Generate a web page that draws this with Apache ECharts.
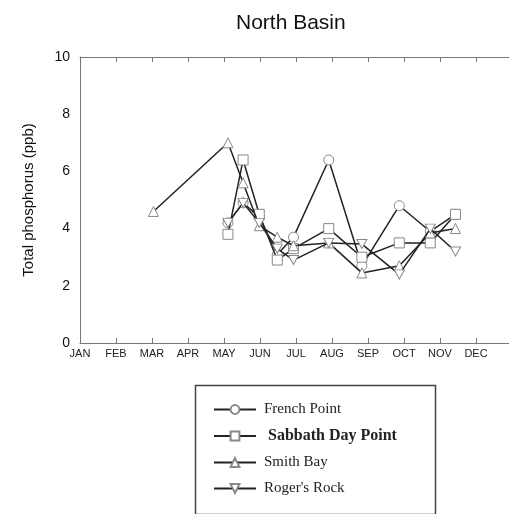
<!DOCTYPE html>
<html>
<head>
<meta charset="utf-8">
<script src="https://cdn.jsdelivr.net/npm/echarts@6/dist/echarts.min.js"></script>
<style>html,body{margin:0;padding:0;background:#fff}#c{width:509px;height:514px}</style>
</head>
<body>
<div id="c"></div>
<script>
var monthLabels = ['JAN','FEB','MAR','APR','MAY','JUN','JUL','AUG','SEP','OCT','NOV','DEC'];
var yTicks = [0, 2, 4, 6, 8, 10];
var seriesNames = ['French Point', 'Sabbath Day Point', 'Smith Bay', "Roger's Rock"];
// sampling dates (fractional month, JAN = 0)
var sampleX = [4.11, 4.53, 4.98, 5.48, 5.93, 6.91, 7.83, 8.87, 9.73, 10.43];
var smithX = [2.04, 4.11, 4.53, 4.98, 5.48, 5.93, 6.91, 7.83, 8.87, 9.73, 10.43];
var frenchPoint = [4.2, 4.9, 4.4, 3.1, 3.7, 6.4, 2.7, 4.8, 3.9, 4.5];
var sabbathDayPoint = [3.8, 6.4, 4.5, 2.9, 3.3, 4.0, 3.0, 3.5, 3.5, 4.5];
var smithBay = [4.6, 7.0, 5.6, 4.1, 3.7, 3.4, 3.5, 2.45, 2.7, 3.85, 4.0];
var rogersRock = [4.2, 4.9, 4.2, 3.3, 2.9, 3.5, 3.46, 2.4, 4.0, 3.2];

function pairs(xs, ys) { return xs.map(function (x, i) { return [x, ys[i]]; }); }

var symbols = ['circle', 'rect', 'triangle', 'path://M0,0 L10,0 L5,9 Z'];
var dataSets = [pairs(sampleX, frenchPoint), pairs(sampleX, sabbathDayPoint), pairs(smithX, smithBay), pairs(sampleX, rogersRock)];

var chart = echarts.init(document.getElementById('c'), null, {renderer: 'canvas'});
var axisCommon = {
  type: 'value', min: 0, max: 12, interval: 1,
  axisLine: {show: true, lineStyle: {color: '#777', width: 1}},
  axisTick: {show: true, inside: true, length: 5, lineStyle: {color: '#777'}},
  splitLine: {show: false}
};
chart.setOption({
  animation: false,
  backgroundColor: '#fff',
  title: {
    text: 'North Basin', left: 231, top: 8,
    textStyle: {fontFamily: 'Liberation Sans', fontSize: 21, fontWeight: 'normal', color: '#111'}
  },
  grid: {left: 80, width: 432, top: 57, height: 286, containLabel: false, outerBoundsMode: 'none'},
  xAxis: [
    Object.assign({}, axisCommon, {
      position: 'bottom',
      axisLabel: {
        margin: 5, fontFamily: 'Liberation Sans', fontSize: 11, color: '#222',
        formatter: function (v) { return monthLabels[v] || ''; }
      }
    }),
    Object.assign({}, axisCommon, {position: 'top', axisLabel: {show: false}})
  ],
  yAxis: {
    type: 'value', min: 0, max: 10, interval: 2,
    name: 'Total phosphorus (ppb)', nameLocation: 'middle', nameGap: 44,
    nameTextStyle: {fontFamily: 'Liberation Sans', fontSize: 15, color: '#111'},
    axisLine: {show: true, lineStyle: {color: '#777', width: 1}},
    axisTick: {show: false},
    splitLine: {show: false},
    axisLabel: {
      margin: 10, fontFamily: 'Liberation Sans', fontSize: 14, color: '#111',
      formatter: function (v) { return yTicks.indexOf(v) >= 0 ? String(v) : ''; }
    }
  },
  legend: {
    orient: 'vertical', left: 208, top: 397, itemGap: 11, itemWidth: 42, itemHeight: 11,
    textStyle: {fontFamily: 'Liberation Serif', fontSize: 15, color: '#222', padding: [0, 0, 0, 3]},
    data: [
      {name: seriesNames[0]},
      {name: seriesNames[1], textStyle: {fontWeight: 'bold', fontSize: 16, padding: [0, 0, 0, 7]}},
      {name: seriesNames[2]},
      {name: seriesNames[3]}
    ]
  },
  graphic: [{
    type: 'rect', left: 193, top: 383,
    shape: {width: 240, height: 129},
    style: {fill: 'none', stroke: '#444', lineWidth: 1.5}
  }],
  series: seriesNames.map(function (n, i) {
    return {
      name: n, type: 'line', data: dataSets[i],
      symbol: symbols[i], symbolSize: i === 3 ? [10, 9] : 10,
      showAllSymbol: true,
      lineStyle: {color: '#222', width: 1.5},
      itemStyle: {color: '#fff', borderColor: '#888', borderWidth: 1},
      z: 2 + i
    };
  })
});
</script>
</body>
</html>
